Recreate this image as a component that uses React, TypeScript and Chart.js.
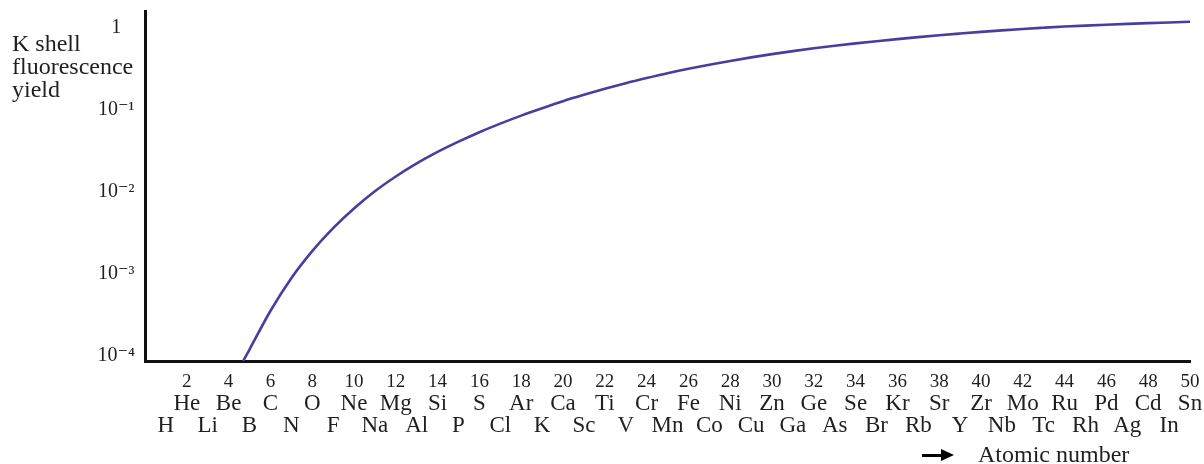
import React, { useEffect, useRef } from 'react';
import { Chart, registerables } from 'chart.js';

Chart.register(...registerables);

// ---- data ----
const elementSymbols = [
  'H', 'He', 'Li', 'Be', 'B', 'C', 'N', 'O', 'F', 'Ne',
  'Na', 'Mg', 'Al', 'Si', 'P', 'S', 'Cl', 'Ar', 'K', 'Ca',
  'Sc', 'Ti', 'V', 'Cr', 'Mn', 'Fe', 'Co', 'Ni', 'Cu', 'Zn',
  'Ga', 'Ge', 'As', 'Se', 'Br', 'Kr', 'Rb', 'Sr', 'Y', 'Zr',
  'Nb', 'Mo', 'Tc', 'Ru', 'Rh', 'Pd', 'Ag', 'Cd', 'In', 'Sn',
];

const atomicNumbers = [
  4.7, 5, 6, 7, 8, 9, 10, 11, 12, 13, 14, 15, 16, 17, 18, 19, 20,
  21, 22, 23, 24, 25, 26, 27, 28, 29, 30, 31, 32, 33, 34, 35, 36, 37, 38, 39, 40,
  41, 42, 43, 44, 45, 46, 47, 48, 49, 50,
];

const fluorescenceYield = [
  8.7e-5, 1.2e-4, 3.54e-4, 8.89e-4, 1.9e-3, 3.62e-3, 6.3e-3, 1.021e-2, 1.545e-2, 2.234e-2,
  3.083e-2, 4.11e-2, 5.36e-2, 6.82e-2, 8.53e-2, 0.105, 0.128,
  0.153, 0.181, 0.212, 0.245, 0.281, 0.318, 0.356, 0.396, 0.438, 0.48,
  0.522, 0.565, 0.607, 0.649, 0.69, 0.731, 0.773, 0.815, 0.855, 0.895,
  0.935, 0.973, 1.007, 1.04, 1.069, 1.096, 1.122, 1.146, 1.167, 1.189,
];

const yTickValues = [1e-4, 1e-3, 1e-2, 1e-1, 1];
const yTickLabels = ['10\u207B\u2074', '10\u207B\u00B3', '10\u207B\u00B2', '10\u207B\u00B9', '1'];
const xTickValues = elementSymbols.map((_, i) => i + 1);

const Y_MIN = 8.69e-5;
const Y_MAX = 1.61;
const X_MIN = 0;
const X_MAX = 50;

const SERIF = '"Liberation Serif", "DejaVu Serif", "Times New Roman", serif';
const TEXT = '#1f1f1f';
const AXIS = '#111111';
const LINE = '#483ea0';

export default function App() {
  const canvasRef = useRef<HTMLCanvasElement | null>(null);

  useEffect(() => {
    document.body.style.margin = '0';
    const canvas = canvasRef.current;
    if (!canvas) return;

    const setTicks = (scale: any) => {
      scale.ticks = xTickValues.map((v) => ({ value: v }));
    };
    const fitX = (h: number) => (s: any) => {
      s.height = h;
      s.paddingLeft = 0;
      s.paddingRight = 0;
    };

    const chart = new Chart(canvas, {
      type: 'line',
      data: {
        datasets: [
          {
            data: atomicNumbers.map((z, i) => ({ x: z, y: fluorescenceYield[i] })),
            borderColor: LINE,
            borderWidth: 2.6,
            pointRadius: 0,
            fill: false,
            cubicInterpolationMode: 'monotone',
            xAxisID: 'x',
            yAxisID: 'y',
          },
        ],
      },
      options: {
        responsive: false,
        animation: false,
        layout: { padding: { left: 0, right: 14, top: 11, bottom: 24 } },
        plugins: {
          legend: { display: false },
          tooltip: { enabled: false },
          title: { display: false },
        },
        scales: {
          x: {
            type: 'linear',
            position: 'bottom',
            weight: 0,
            min: X_MIN,
            max: X_MAX,
            afterBuildTicks: setTicks,
            afterFit: fitX(27.2),
            grid: { display: false, drawTicks: false },
            border: { display: true, color: AXIS, width: 3 },
            ticks: {
              autoSkip: false,
              maxRotation: 0,
              minRotation: 0,
              padding: 10,
              color: TEXT,
              font: { family: SERIF, size: 19 },
              callback: (v: any) => (Number(v) % 2 === 0 && Number(v) > 0 ? String(v) : ''),
            },
          },
          x2: {
            type: 'linear',
            position: 'bottom',
            weight: 1,
            min: X_MIN,
            max: X_MAX,
            afterBuildTicks: setTicks,
            afterFit: fitX(26.8),
            grid: { display: false, drawTicks: false },
            border: { display: false },
            ticks: {
              autoSkip: false,
              maxRotation: 0,
              minRotation: 0,
              padding: 2,
              color: TEXT,
              font: { family: SERIF, size: 23 },
              callback: (v: any) => {
                const z = Number(v);
                return z % 2 === 0 && z > 0 ? elementSymbols[z - 1] : '';
              },
            },
          },
          x3: {
            type: 'linear',
            position: 'bottom',
            weight: 2,
            min: X_MIN,
            max: X_MAX,
            afterBuildTicks: setTicks,
            afterFit: fitX(25),
            grid: { display: false, drawTicks: false },
            border: { display: false },
            ticks: {
              autoSkip: false,
              maxRotation: 0,
              minRotation: 0,
              padding: -2.8,
              color: TEXT,
              font: { family: SERIF, size: 23 },
              callback: (v: any) => {
                const z = Number(v);
                return z % 2 === 1 ? elementSymbols[z - 1] : '';
              },
            },
          },
          y: {
            type: 'logarithmic',
            position: 'left',
            min: Y_MIN,
            max: Y_MAX,
            afterBuildTicks: (s: any) => {
              s.ticks = yTickValues.map((v) => ({ value: v }));
            },
            afterFit: (s: any) => {
              s.width = 145;
              s.paddingTop = 0;
              s.paddingBottom = 0;
            },
            grid: { display: false, drawTicks: false },
            border: { display: true, color: AXIS, width: 3 },
            ticks: {
              autoSkip: false,
              padding: 10,
              crossAlign: 'center',
              color: TEXT,
              font: { family: SERIF, size: 20 },
              callback: (v: any) => {
                const idx = yTickValues.findIndex((t) => Math.abs(Math.log10(t) - Math.log10(Number(v))) < 1e-6);
                return idx >= 0 ? yTickLabels[idx] : '';
              },
            },
          },
        },
      },
    });

    return () => {
      chart.destroy();
    };
  }, []);

  const textStyle: React.CSSProperties = {
    position: 'absolute',
    fontFamily: SERIF,
    fontSize: '24px',
    lineHeight: '23px',
    color: TEXT,
    whiteSpace: 'nowrap',
    margin: 0,
  };

  return (
    <div style={{ position: 'relative', width: 1204, height: 464, background: '#ffffff', overflow: 'hidden' }}>
      <canvas ref={canvasRef} width={1204} height={464} style={{ display: 'block' }} />
      <div style={{ ...textStyle, left: 12, top: 32.4 }}>
        K shell
        <br />
        fluorescence
        <br />
        yield
      </div>
      <div style={{ position: 'absolute', left: 922, top: 453.5, width: 22, height: 3, background: '#000' }} />
      <div
        style={{
          position: 'absolute',
          left: 941,
          top: 449,
          width: 0,
          height: 0,
          borderTop: '6px solid transparent',
          borderBottom: '6px solid transparent',
          borderLeft: '13px solid #000',
        }}
      />
      <div style={{ ...textStyle, left: 978, top: 443, lineHeight: '22px' }}>Atomic number</div>
    </div>
  );
}
